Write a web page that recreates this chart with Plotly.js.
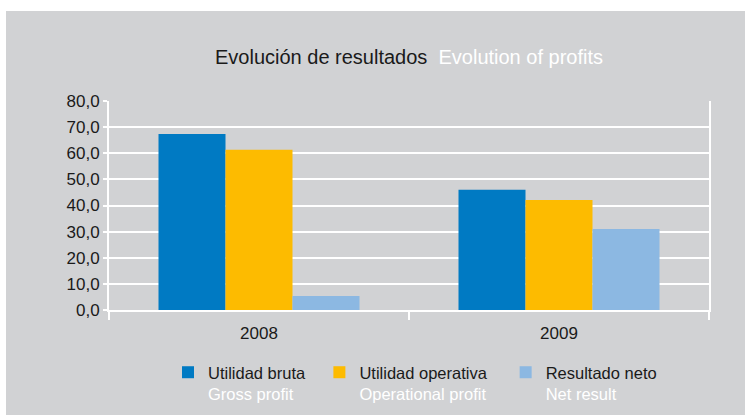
<!DOCTYPE html>
<html>
<head>
<meta charset="utf-8">
<script src="https://cdn.plot.ly/plotly-3.0.1.min.js"></script>
<style>html,body{margin:0;padding:0;background:#fff;}#chart{width:745px;height:415px;}</style>
</head>
<body>
<div id="chart"></div>
<script>
const years = ['2008', '2009'];
const seriesEs = ['Utilidad bruta', 'Utilidad operativa', 'Resultado neto'];
const seriesEn = ['Gross profit', 'Operational profit', 'Net result'];
const utilidadBruta = [67.4, 46.0];
const utilidadOperativa = [61.3, 42.1];
const resultadoNeto = [5.4, 31.0];
const yTicks = [0, 10, 20, 30, 40, 50, 60, 70, 80];

const colors = ['#007ac3', '#fdbb00', '#8cb8e2'];
const values = [utilidadBruta, utilidadOperativa, resultadoNeto];
const namePad = ['&nbsp;&nbsp;', '&nbsp;&nbsp;&nbsp;', ''];

const traces = values.map((v, i) => ({
  type: 'bar',
  x: years,
  y: v,
  name: seriesEs[i] + namePad[i] + '<br><span style="color:#ffffff">' + seriesEn[i] + '</span>',
  marker: {color: colors[i], line: {width: 0}},
  hoverinfo: 'skip'
}));

const L = 109, R = 709, T = 101, B = 310, W = 745, H = 415;
const px = p => (p - L) / (R - L);
const py = p => (B - p) / (B - T);

const layout = {
  width: W, height: H,
  margin: {l: L, r: W - R, t: T, b: H - B, pad: 0, autoexpand: false},
  paper_bgcolor: '#ffffff',
  plot_bgcolor: 'rgba(0,0,0,0)',
  separators: ',.',
  font: {family: 'Liberation Sans, Arial, sans-serif', size: 17, color: '#1a1a1a'},
  barmode: 'group',
  bargap: 0.33,
  bargroupgap: 0,
  title: {
    text: 'Evolución de resultados  <span style="color:#ffffff">Evolution of profits</span>',
    font: {family: 'Liberation Sans, sans-serif', size: 20, color: '#1a1a1a'},
    x: 0.5, xanchor: 'center', xref: 'paper',
    y: 1 - 57 / H, yanchor: 'middle', yref: 'container'
  },
  xaxis: {
    type: 'category',
    automargin: false,
    showgrid: false,
    showline: true, linecolor: '#ffffff', linewidth: 2,
    ticks: 'outside', tickson: 'boundaries', ticklen: 8, tickwidth: 2, tickcolor: '#ffffff',
    tickfont: {size: 17, color: '#1a1a1a'},
    ticklabelstandoff: 7,
    fixedrange: true
  },
  yaxis: {
    automargin: false,
    range: [0, 80],
    tickvals: yTicks,
    tickformat: '.1f',
    showgrid: true, gridcolor: '#ffffff', gridwidth: 2,
    zeroline: false,
    showline: true, mirror: true, linecolor: '#ffffff', linewidth: 2,
    ticks: 'outside', ticklen: 4, tickwidth: 2, tickcolor: '#ffffff',
    tickfont: {size: 17, color: '#1a1a1a'},
    fixedrange: true
  },
  showlegend: true,
  legend: {
    orientation: 'h',
    x: px(168), xanchor: 'left',
    y: py(355), yanchor: 'top',
    valign: 'top',
    bgcolor: 'rgba(0,0,0,0)',
    font: {size: 16.5, color: '#1a1a1a'},
    traceorder: 'normal'
  },
  shapes: [{
    type: 'rect', xref: 'paper', yref: 'paper', layer: 'below',
    x0: px(6), x1: px(W + 5), y0: py(H + 5), y1: py(11),
    fillcolor: '#d1d2d4', line: {width: 0}
  }]
};

Plotly.newPlot('chart', traces, layout, {displayModeBar: false, staticPlot: true});
</script>
</body>
</html>
